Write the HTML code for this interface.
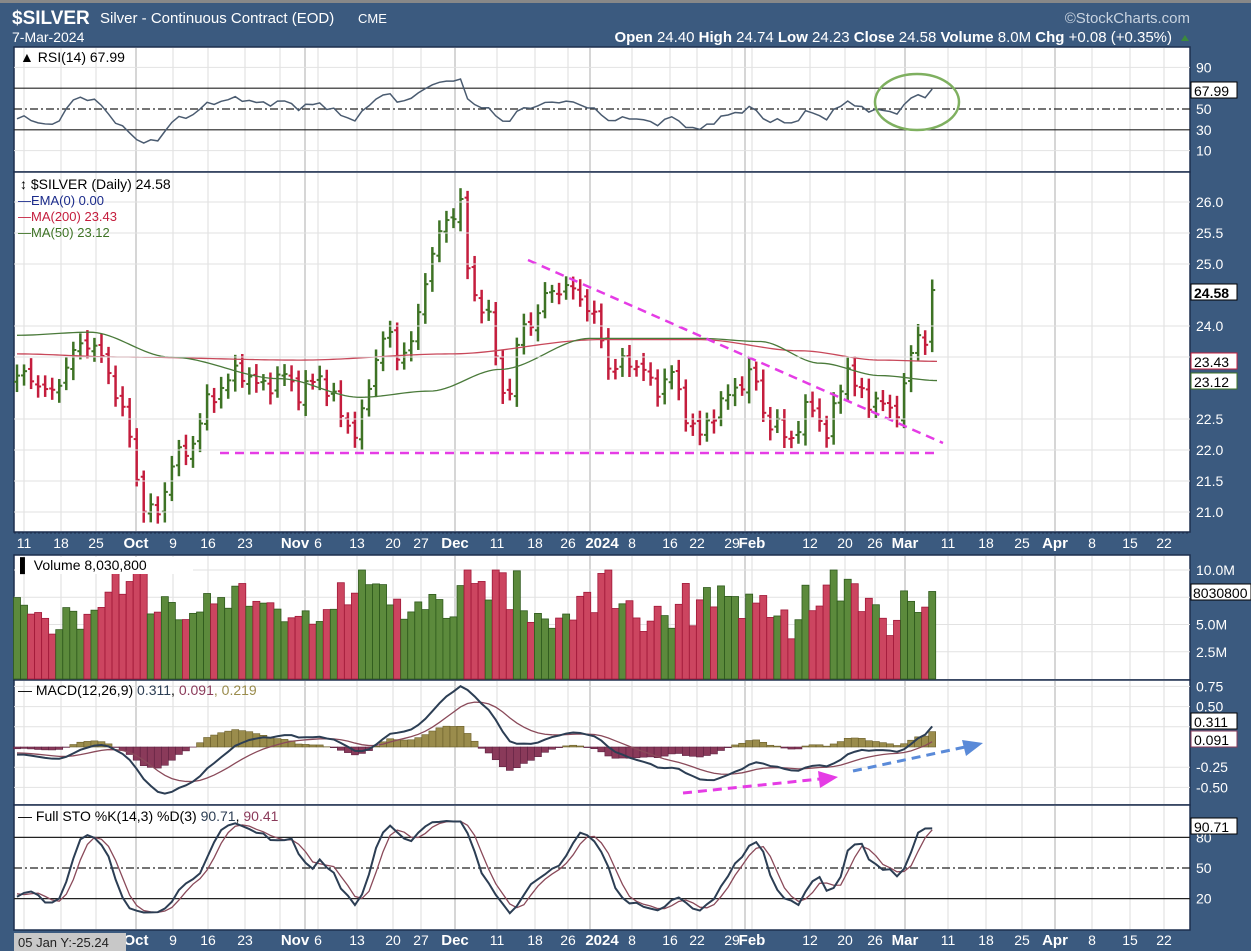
<!DOCTYPE html>
<html><head><meta charset="utf-8"><style>
html,body{margin:0;padding:0;background:#3b5a7f;width:1251px;height:951px;overflow:hidden;font-family:"Liberation Sans",sans-serif}
svg{display:block}
</style></head><body>
<svg id="c" width="1251" height="951" xmlns="http://www.w3.org/2000/svg" font-family="Liberation Sans, sans-serif">
<rect x="0" y="0" width="1251" height="951" fill="#3b5a7f"/>
<rect x="0" y="0" width="1251" height="3" fill="#888"/>
<text x="12" y="24" fill="#fff" font-size="19" font-weight="bold">$SILVER</text>
<text x="100" y="23" fill="#fff" font-size="15">Silver - Continuous Contract (EOD)</text>
<text x="358" y="23" fill="#fff" font-size="13">CME</text>
<text x="1190" y="23" fill="#c8d3e0" font-size="15" text-anchor="end">©StockCharts.com</text>
<text x="12" y="42" fill="#fff" font-size="14">7-Mar-2024</text>
<text x="1172" y="42" fill="#fff" font-size="15" text-anchor="end"><tspan font-weight="bold">Open</tspan> 24.40 <tspan font-weight="bold">High</tspan> 24.74 <tspan font-weight="bold">Low</tspan> 24.23 <tspan font-weight="bold">Close</tspan> 24.58 <tspan font-weight="bold">Volume</tspan> 8.0M <tspan font-weight="bold">Chg</tspan> +0.08 (+0.35%)</text>
<polygon points="1181,41 1189,41 1185,35" fill="#3c8a3c"/>
<g id="g"></g>
</svg>
<script>
var NS="http://www.w3.org/2000/svg",G=document.getElementById('g');
function el(t,a,txt){var e=document.createElementNS(NS,t);for(var k in a)e.setAttribute(k,a[k]);if(txt!=null)e.textContent=txt;G.appendChild(e);return e;}
function ts(p,t,fill){var s=document.createElementNS(NS,'tspan');if(fill)s.setAttribute('fill',fill);s.textContent=t;p.appendChild(s);}
var L=14,R=1190;
var panels=[[47,172],[172,532],[555,680],[680,805],[805,930]];
panels.forEach(function(p){el('rect',{x:L,y:p[0],width:R-L,height:p[1]-p[0],fill:'#fff',stroke:'#1d2f4f','stroke-width':1.5});});
var dl=[[24,'11'],[61,'18'],[96,'25'],[136,'Oct',1],[173,'9'],[208,'16'],[245,'23'],[295,'Nov',1],[318,'6'],[357,'13'],[393,'20'],[421,'27'],[455,'Dec',1],[497,'11'],[535,'18'],[568,'26'],[602,'2024',1],[632,'8'],[670,'16'],[697,'22'],[732,'29'],[752,'Feb',1],[810,'12'],[845,'20'],[875,'26'],[905,'Mar',1],[948,'11'],[986,'18'],[1022,'25'],[1055,'Apr',1],[1092,'8'],[1130,'15'],[1164,'22']];
var gx=[24,61,96,136,173,208,245,280,318,357,393,421,455,497,535,568,590,632,670,697,732,752,810,845,875,905,948,986,1022,1055,1092,1130,1164];
panels.forEach(function(p){
  gx.forEach(function(x){el('line',{x1:x,y1:p[0]+1,x2:x,y2:p[1]-1,stroke:'#ddd','stroke-width':1});});
  [136,305,455,590,745,905,1055].forEach(function(x){el('line',{x1:x,y1:p[0]+1,x2:x,y2:p[1]-1,stroke:'#bbb','stroke-width':1.2});});
});
[[548],[945]].forEach(function(a){
  el('line',{x1:L,y1:a[0]-15,x2:R,y2:a[0]-15,stroke:'#1d2f4f','stroke-dasharray':'2,2'});
  dl.forEach(function(d){el('text',{x:d[0],y:a[0],fill:'#fff','font-size':d[2]?15:14,'font-weight':d[2]?'bold':'normal','text-anchor':'middle'},d[1]);});
});
var kp=[[-300,23.6],[-200,23.9],[-120,23.3],[-50,23.6],[17,23.2],[40,23.1],[50,22.8],[70,23.5],[90,23.8],[100,23.5],[115,23.0],[125,22.5],[132,22.0],[140,21.2],[150,21.0],[160,20.95],[170,21.8],[190,22.0],[205,22.7],[220,23.0],[240,23.3],[260,23.0],[285,23.2],[300,22.9],[320,23.2],[340,22.6],[358,22.2],[372,23.3],[385,23.9],[400,23.5],[415,23.8],[425,24.8],[440,25.5],[455,25.9],[460,26.1],[465,25.0],[475,24.5],[490,24.1],[500,23.0],[512,22.95],[520,24.0],[535,24.1],[550,24.6],[565,24.6],[580,24.5],[595,24.1],[610,23.3],[625,23.4],[640,23.4],[655,22.9],[670,23.3],[685,22.6],[700,22.2],[712,22.6],[725,22.8],[740,23.1],[755,23.2],[765,22.5],[780,22.3],[795,22.2],[805,22.6],[815,22.8],[825,22.1],[835,22.7],[845,23.4],[855,23.0],[870,22.8],[885,22.7],[895,22.6],[905,23.0],[915,23.9],[925,23.8],[938,24.58]];
function interp(x){for(var i=1;i<kp.length;i++){if(x<=kp[i][0]){var a=kp[i-1],b=kp[i];return a[1]+(b[1]-a[1])*(x-a[0])/(b[0]-a[0]);}}return kp[kp.length-1][1];}
var W=40,N=131,dx=7.04;
var C=[],O=[],H=[],Lo=[],X=[];
for(var i=-W;i<N;i++){var x=17+i*dx;X.push(x);var c=interp(x)+0.1*Math.sin(i*1.7)+0.07*Math.sin(i*3.1);if(i==N-1)c=24.58;C.push(c);}
for(var i=0;i<C.length;i++){var o=i?C[i-1]+0.05*Math.sin(i*2.3):C[i];O.push(o);H.push(Math.max(o,C[i])+0.1+0.08*Math.abs(Math.sin(i*1.3)));Lo.push(Math.min(o,C[i])-0.1-0.08*Math.abs(Math.cos(i*1.9)));}
var py=function(p){return 202+(26-p)*62;};
for(var j=W;j<C.length;j++){var x=X[j],col=C[j]>=C[j-1]?'#3e7325':'#c41d3d';
 el('line',{x1:x,y1:py(H[j]),x2:x,y2:py(Lo[j]),stroke:col,'stroke-width':2.5});
 el('line',{x1:x-3,y1:py(O[j]),x2:x,y2:py(O[j]),stroke:col,'stroke-width':2});
 el('line',{x1:x,y1:py(C[j]),x2:x+3,y2:py(C[j]),stroke:col,'stroke-width':2});}
function pl(pts,col,w){el('polyline',{points:pts.map(function(p){return p[0]+','+p[1];}).join(' '),fill:'none',stroke:col,'stroke-width':w||1.3});}
function smooth(k){var a=[];for(var x=17;x<=938;x+=4){for(var i=1;i<k.length;i++)if(x<=k[i][0]){var t=(x-k[i-1][0])/(k[i][0]-k[i-1][0]);t=t*t*(3-2*t);a.push([x,py(k[i-1][1]+(k[i][1]-k[i-1][1])*t)]);break;}}return a;}
pl(smooth([[17,23.55],[120,23.5],[300,23.45],[450,23.55],[600,23.78],[700,23.78],[800,23.6],[880,23.45],[938,23.43]]),'#c8485a',1.3);
pl(smooth([[17,23.85],[90,23.9],[170,23.5],[280,23.15],[360,22.85],[430,22.95],[500,23.3],[590,23.8],[700,23.8],[760,23.75],[820,23.4],[880,23.2],[938,23.12]]),'#4a7a3a',1.3);
el('line',{x1:220,y1:453,x2:937,y2:453,stroke:'#e53ce5','stroke-width':2.5,'stroke-dasharray':'9,6'});
el('line',{x1:528,y1:260,x2:943,y2:443,stroke:'#e53ce5','stroke-width':2.5,'stroke-dasharray':'9,6'});
[[26,'26.0'],[25.5,'25.5'],[25,'25.0'],[24,'24.0'],[23.5,'23.5'],[22.5,'22.5'],[22,'22.0'],[21.5,'21.5'],[21,'21.0']].forEach(function(t){var y=py(t[0]);el('line',{x1:L,y1:y,x2:R,y2:y,stroke:'#e2e2e2'});el('text',{x:1196,y:y+5,fill:'#fff','font-size':14},t[1]);});
function box(y,t,bold,bc){el('rect',{x:1191,y:y-8,width:46,height:16,fill:'#fff',stroke:bc||'#000'});el('text',{x:1194,y:y+6,fill:'#000','font-size':14,'font-weight':bold?'bold':'normal'},t);}
box(292,'24.58',1);box(361,'23.43',0,'#c41d3d');box(381,'23.12',0,'#3e7325');
el('text',{x:20,y:189,'font-size':14,fill:'#000'},'\u2195 $SILVER (Daily) 24.58');
el('text',{x:18,y:205,'font-size':13,fill:'#1a2a8a'},'\u2014EMA(0) 0.00');
el('text',{x:18,y:221,'font-size':13,fill:'#c41d3d'},'\u2014MA(200) 23.43');
el('text',{x:18,y:237,'font-size':13,fill:'#3e7325'},'\u2014MA(50) 23.12');
var ag=0,al=0,rsi=[];for(var i=1;i<C.length;i++){var d=C[i]-C[i-1],g=d>0?d:0,l=d<0?-d:0;if(i<=14){ag+=g/14;al+=l/14;}else{ag=(ag*13+g)/14;al=(al*13+l)/14;}rsi[i]=100-100/(1+ag/(al||1e-6));}
var ry=function(v){return 109-(v-50)*1.04;};
[90,10].forEach(function(v){el('line',{x1:L,y1:ry(v),x2:R,y2:ry(v),stroke:'#e2e2e2'});});
el('line',{x1:L,y1:ry(70),x2:R,y2:ry(70),stroke:'#222','stroke-width':1.2});
el('line',{x1:L,y1:ry(30),x2:R,y2:ry(30),stroke:'#222','stroke-width':1.2});
el('line',{x1:L,y1:ry(50),x2:R,y2:ry(50),stroke:'#222','stroke-width':1.2,'stroke-dasharray':'8,3,2,3'});
var rp=[];for(var j=W;j<C.length;j++)rp.push([X[j],ry(rsi[j])]);
pl(rp,'#4a5b70',1.5);
[[90,'90'],[50,'50'],[30,'30'],[10,'10']].forEach(function(t){el('text',{x:1196,y:ry(t[0])+5,fill:'#fff','font-size':14},t[1]);});
box(90,'67.99');
el('text',{x:20,y:62,'font-size':14,fill:'#000'},'\u25B2 RSI(14) 67.99');
el('ellipse',{cx:917,cy:102,rx:42,ry:28,fill:'none',stroke:'#7fb060','stroke-width':2.5});
var vy=function(m){return 679-m*10.9;};
[10,7.5,5,2.5].forEach(function(m){el('line',{x1:L,y1:vy(m),x2:R,y2:vy(m),stroke:'#e2e2e2'});});
for(var j=W;j<C.length;j++){var up=C[j]>=C[j-1];var v=4.6+1.5*Math.abs(Math.sin(j*0.9))+1.3*Math.sin(j*0.37)+Math.abs(C[j]-C[j-1])*6;v=Math.min(v,10);if(j==C.length-1)v=8.03;
 el('rect',{x:X[j]-3.5,y:vy(v),width:7,height:679-vy(v),fill:up?'#5c8a3c':'#cc4560',stroke:up?'#2f5a1d':'#a01838','stroke-width':0.8});}
[[10,'10.0M'],[5,'5.0M'],[2.5,'2.5M']].forEach(function(t){el('text',{x:1196,y:vy(t[0])+5,fill:'#fff','font-size':14},t[1]);});
el('rect',{x:1191,y:584,width:60,height:16,fill:'#fff',stroke:'#000'});el('text',{x:1193,y:598,'font-size':14,fill:'#000'},'8030800');
el('rect',{x:15,y:557,width:178,height:17,fill:'#fff'});
el('text',{x:20,y:570,'font-size':14,fill:'#000'},'\u258C Volume 8,030,800');
function ema(a,n){var k=2/(n+1),o=[],e=a[0];for(var i=0;i<a.length;i++){e=i?a[i]*k+e*(1-k):a[i];o.push(e);}return o;}
var e12=ema(C,12),e26=ema(C,26),m=C.map(function(_,i){return e12[i]-e26[i];}),sg=ema(m,9);
var my=function(v){return 747-v*80.8;};
[0.75,0.5,0.25,-0.25,-0.5].forEach(function(v){el('line',{x1:L,y1:my(v),x2:R,y2:my(v),stroke:'#e2e2e2'});});
for(var j=W;j<C.length;j++){var h=m[j]-sg[j];el('rect',{x:X[j]-3.5,y:Math.min(my(h),747),width:7,height:Math.abs(my(h)-747),fill:h>0?'#9a8c4c':'#8a3a5a',stroke:h>0?'#6a5e2a':'#5e2040','stroke-width':0.6});}
var sp=[],mp=[];for(var j=W;j<C.length;j++){sp.push([X[j],my(sg[j])]);mp.push([X[j],my(m[j])]);}
pl(sp,'#8a4a5a',1.3);pl(mp,'#2c3e54',2);
[[0.75,'0.75'],[0.5,'0.50'],[-0.25,'-0.25'],[-0.5,'-0.50']].forEach(function(t){el('text',{x:1196,y:my(t[0])+5,fill:'#fff','font-size':14},t[1]);});
box(721,'0.311');box(739,'0.091',0,'#8a3a5a');
var t1=el('text',{x:18,y:695,'font-size':14,fill:'#000'});ts(t1,'\u2014 MACD(12,26,9) ');ts(t1,'0.311','#2c3e54');ts(t1,', ');ts(t1,'0.091','#8a3a5a');ts(t1,', ','#9a8c4c');ts(t1,'0.219','#9a8c4c');
el('line',{x1:683,y1:793,x2:820,y2:779,stroke:'#e53ce5','stroke-width':3,'stroke-dasharray':'9,6'});
el('polygon',{points:'818,771 838,777 820,788',fill:'#e53ce5'});
el('line',{x1:853,y1:771,x2:965,y2:747,stroke:'#5a8ad8','stroke-width':3,'stroke-dasharray':'9,6'});
el('polygon',{points:'962,740 983,743 966,756',fill:'#5a8ad8'});
var rk=[];for(var i=0;i<C.length;i++){var hh=-1e9,ll=1e9;for(var k=Math.max(0,i-13);k<=i;k++){hh=Math.max(hh,H[k]);ll=Math.min(ll,Lo[k]);}rk.push(100*(C[i]-ll)/(hh-ll));}
function sma(a,n){return a.map(function(_,i){var s=0,c=0;for(var k=Math.max(0,i-n+1);k<=i;k++){s+=a[k];c++;}return s/c;});}
var K=sma(rk,3),D=sma(K,3);var sy=function(v){return 868-(v-50)*1.02;};
el('line',{x1:L,y1:sy(80),x2:R,y2:sy(80),stroke:'#222','stroke-width':1.2});el('line',{x1:L,y1:sy(20),x2:R,y2:sy(20),stroke:'#222','stroke-width':1.2});
el('line',{x1:L,y1:sy(50),x2:R,y2:sy(50),stroke:'#222','stroke-width':1.2,'stroke-dasharray':'8,3,2,3'});
var kp2=[],dp2=[];for(var j=W;j<C.length;j++){kp2.push([X[j],sy(K[j])]);dp2.push([X[j],sy(D[j])]);}
pl(dp2,'#8a4a5a',1.3);pl(kp2,'#2c3e54',2);
[[80,'80'],[50,'50'],[20,'20']].forEach(function(t){el('text',{x:1196,y:sy(t[0])+5,fill:'#fff','font-size':14},t[1]);});
box(826,'90.71');
var t2=el('text',{x:18,y:821,'font-size':14,fill:'#000'});ts(t2,'\u2014 Full STO %K(14,3) %D(3) ');ts(t2,'90.71','#2c3e54');ts(t2,', ');ts(t2,'90.41','#8a3a5a');
el('rect',{x:14,y:933,width:112,height:18,fill:'#c8c8c8'});
el('text',{x:18,y:947,'font-size':13,fill:'#222'},'05 Jan Y:-25.24');
</script>
</body></html>
